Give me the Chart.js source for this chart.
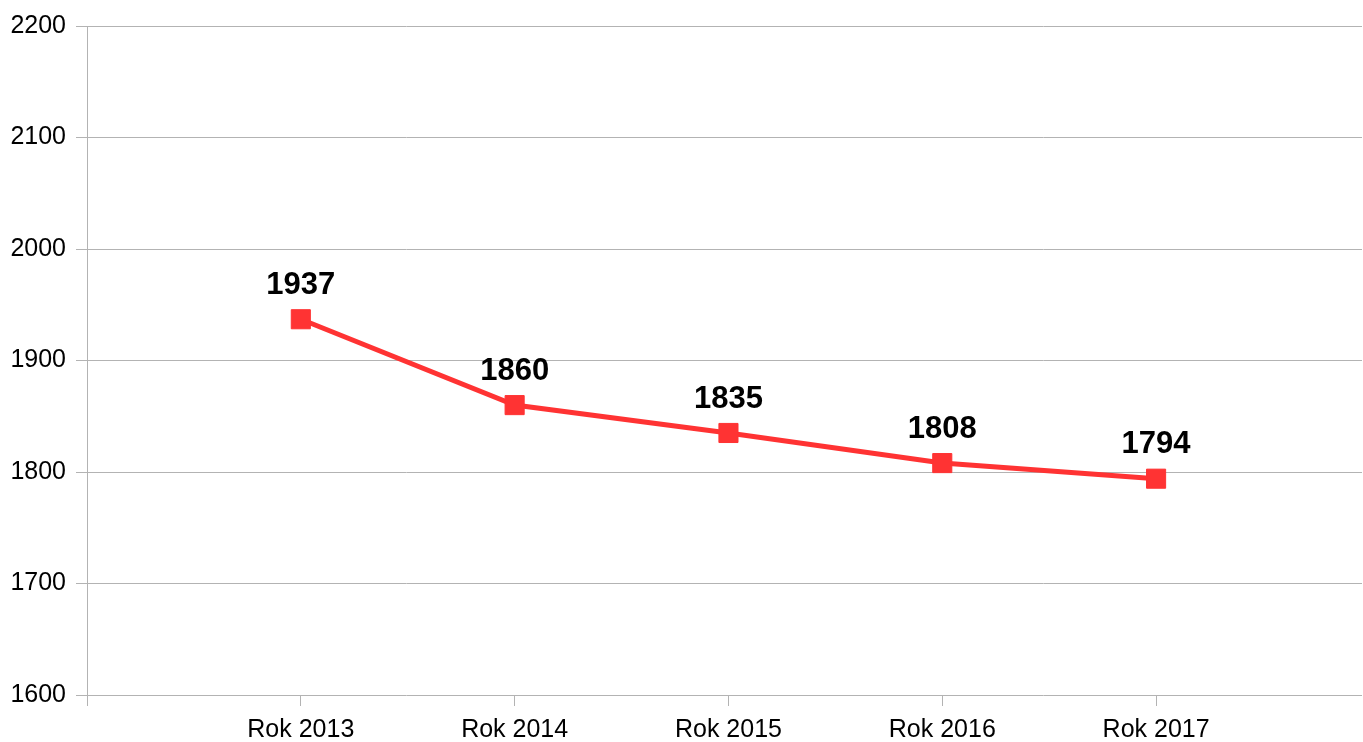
<!DOCTYPE html>
<html>
<head>
<meta charset="utf-8">
<script src="https://cdn.jsdelivr.net/npm/chart.js@4/dist/chart.umd.min.js"></script>
<style>
html,body{margin:0;padding:0;background:#fff;overflow:hidden;}
#wrap{width:1363px;height:742px;position:relative;overflow:hidden;}
canvas{display:block;}
</style>
</head>
<body>
<div id="wrap"><canvas id="c" width="1363" height="742"></canvas></div>
<script>
const categories = ['Rok 2013', 'Rok 2014', 'Rok 2015', 'Rok 2016', 'Rok 2017'];
const values = [1937, 1860, 1835, 1808, 1794];
const yTicks = [1600, 1700, 1800, 1900, 2000, 2100, 2200];

const FONT = '"Liberation Sans", Arial, sans-serif';
const GRID = '#b3b3b3';

const labelPlugin = {
  id: 'valueLabels',
  afterDatasetsDraw(chart) {
    const ctx = chart.ctx;
    const meta = chart.getDatasetMeta(0);
    ctx.save();
    ctx.font = 'bold 31px ' + FONT;
    ctx.fillStyle = '#000';
    ctx.textAlign = 'center';
    ctx.textBaseline = 'middle';
    meta.data.forEach((pt, i) => {
      ctx.fillText(String(values[i]), pt.x, pt.y - 34);
    });
    ctx.restore();
  }
};

new Chart(document.getElementById('c'), {
  type: 'line',
  data: {
    datasets: [{
      data: values.map((v, i) => ({x: i, y: v})),
      borderColor: '#ff3333',
      backgroundColor: '#ff3333',
      borderWidth: 5,
      pointStyle: 'rect',
      pointRadius: 13.5,
      pointHoverRadius: 13.5,
      pointBorderWidth: 1,
      pointBorderColor: '#ff3333',
      pointBackgroundColor: '#ff3333',
      tension: 0,
      clip: false
    }]
  },
  options: {
    responsive: false,
    animation: false,
    events: [],
    layout: {autoPadding: false, padding: {left: 0, right: 1, top: 26, bottom: 0}},
    plugins: {legend: {display: false}, tooltip: {enabled: false}},
    scales: {
      x: {
        type: 'linear',
        min: -1,
        max: 4.963,
        afterBuildTicks(scale) {
          scale.ticks = [-1, 0, 1, 2, 3, 4].map(v => ({value: v}));
        },
        afterFit(scale) {
          scale.height = 47;
          scale.paddingLeft = 0;
          scale.paddingRight = 0;
        },
        grid: {
          drawOnChartArea: false,
          drawTicks: true,
          tickLength: 11,
          color: GRID,
          lineWidth: 1
        },
        border: {display: false},
        ticks: {
          autoSkip: false,
          maxRotation: 0,
          padding: 9,
          color: '#000',
          font: {family: FONT, size: 25},
          callback: (v) => (v >= 0 && Number.isInteger(v) && categories[v]) ? categories[v] : ''
        }
      },
      y: {
        min: yTicks[0],
        max: yTicks[yTicks.length - 1],
        afterBuildTicks(scale) {
          scale.ticks = yTicks.map(v => ({value: v}));
        },
        afterFit(scale) {
          scale.width = 87;
          scale.paddingTop = 0;
          scale.paddingBottom = 0;
        },
        grid: {
          color: GRID,
          lineWidth: 1,
          tickLength: 11,
          drawTicks: true
        },
        border: {display: true, color: GRID, width: 1},
        ticks: {
          padding: 10,
          color: '#000',
          font: {family: FONT, size: 25},
          callback: (v) => String(v)
        }
      }
    }
  },
  plugins: [labelPlugin]
});
</script>
</body>
</html>
